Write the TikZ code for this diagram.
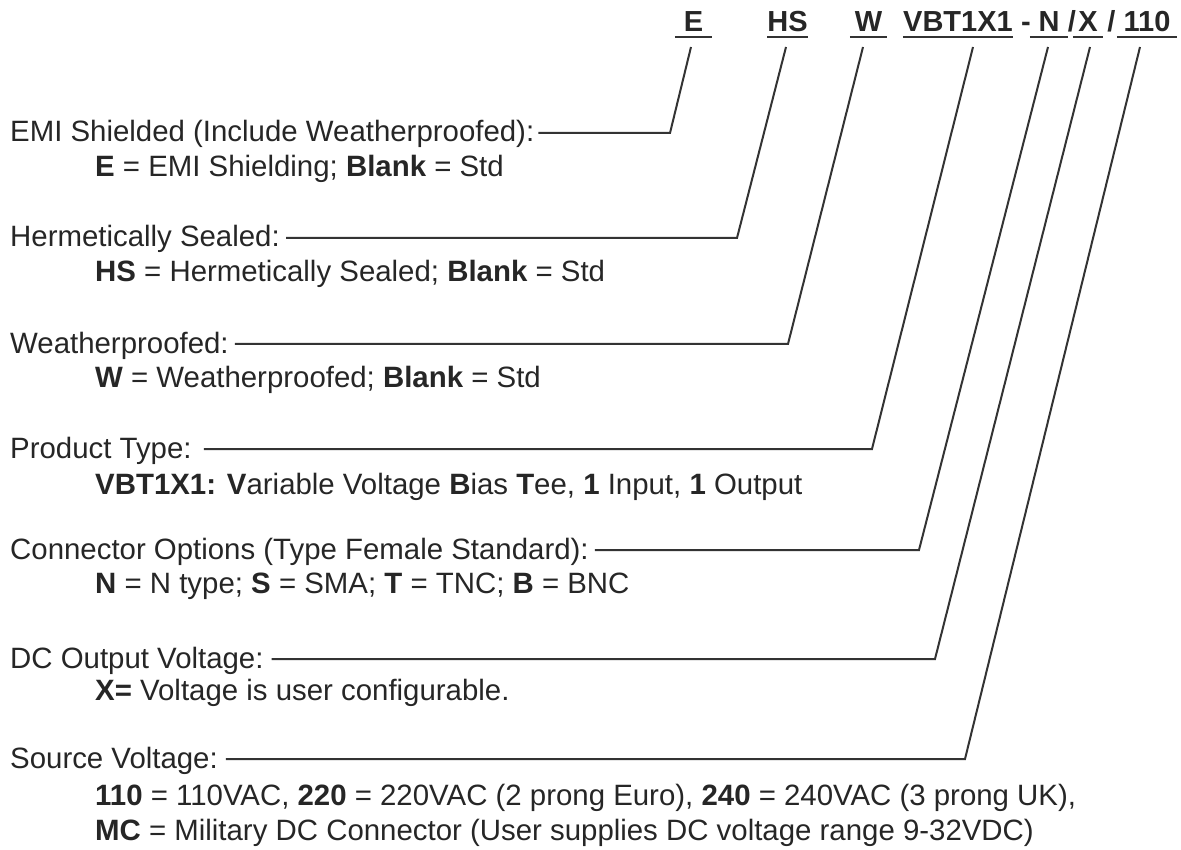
\documentclass[tikz,border=0pt]{standalone}
\usepackage{fontspec}
\setmainfont{Liberation Sans}
\usepackage{xcolor}
\usepackage{tikz}
\usetikzlibrary{positioning,calc}
\definecolor{inkgray}{HTML}{262626}
\definecolor{leadgray}{HTML}{333333}

\begin{document}
\begin{tikzpicture}[
 x=1pt,y=-1pt,
 field/.style={font=\fontsize{29.4}{34}\selectfont,text=inkgray,inner sep=0pt,anchor=base west,text height=20pt,text depth=2pt},
 option/.style={font=\fontsize{29.4}{34}\selectfont,text=inkgray,inner sep=0pt,anchor=base west},
 code/.style={font=\fontsize{29}{32}\selectfont\bfseries,text=inkgray,inner sep=0pt,anchor=base},
 lead/.style={draw=leadgray,line width=2pt,line join=miter},
 uline/.style={draw=leadgray,line width=2.2pt}
]
\useasboundingbox (0,0) rectangle (1181,850);
% part number
\node[code,minimum width=37pt] (e) at (693.5,32) {E};
\node[code,minimum width=39pt] (hs) at (787.5,32) {HS};
\node[code,minimum width=37pt] (w) at (868.5,32) {W};
\node[code,minimum width=110pt] (vbt) at (958,32) {VBT1X1};
\node[code] (dash) at (1026,32) {-};
\node[code,minimum width=38pt] (n) at (1049,32) {N};
\node[code] (sl1) at (1072,32) {/};
\node[code,minimum width=30pt] (x) at (1088,32) {X};
\node[code] (sl2) at (1111.5,32) {/};
\node[code,minimum width=60pt] (vac) at (1147,32) {110};
\foreach \c in {e,hs,w,vbt,n,x,vac}
 \draw[uline] ([yshift=-5pt]\c.base west) -- ([yshift=-5pt]\c.base east);

% fields
\node[field] (shield) at (10,142) {EMI Shielded (Include Weatherproofed):};
\node[option] (shieldopt) at (95,177) {\textbf{E} = EMI Shielding; \textbf{Blank} = Std};
\node[field] (sealed) at (10,247) {Hermetically Sealed:};
\node[option] (sealedopt) at (95,282) {\textbf{HS} = Hermetically Sealed; \textbf{Blank} = Std};
\node[field] (weather) at (10,353) {Weatherproofed:};
\node[option] (weatheropt) at (95,387) {\textbf{W} = Weatherproofed; \textbf{Blank} = Std};
\node[field] (ptype) at (10,458) {Product Type:};
\node[option] (ptypeopt) at (95,494) {\textbf{VBT1X1: V}ariable Voltage \textbf{B}ias \textbf{T}ee, \textbf{1} Input, \textbf{1} Output};
\node[field] (conn) at (10,559) {Connector Options (Type Female Standard):};
\node[option] (connopt) at (95,593) {\textbf{N} = N type; \textbf{S} = SMA; \textbf{T} = TNC; \textbf{B} = BNC};
\node[field] (dcout) at (10,668) {DC Output Voltage:};
\node[option] (dcoutopt) at (95,700) {\textbf{X=} Voltage is user configurable.};
\node[field] (source) at (10,768) {Source Voltage:};
\node[option] (sourceopt) at (95,805) {\textbf{110} = 110VAC, \textbf{220} = 220VAC (2 prong Euro), \textbf{240} = 240VAC (3 prong UK),};
\node[option] (sourcemc) at (95,840) {\textbf{MC} = Military DC Connector (User supplies DC voltage range 9-32VDC)};

% leaders
\foreach \a/\b/\k/\d/\g in {shield/e/670/-2.5/4,sealed/hs/737/-1.5/6,weather/w/788/-5.5/6,ptype/vbt/872/15/12,conn/n/919/-1/6,dcout/x/935/2/8,source/vac/965/-7/8}
 \draw[lead] ([xshift=\g pt]\a.east) -- (\a.east -| \k,0) -- ([shift={(\d,15)}]\b.base);
\end{tikzpicture}
\end{document}
